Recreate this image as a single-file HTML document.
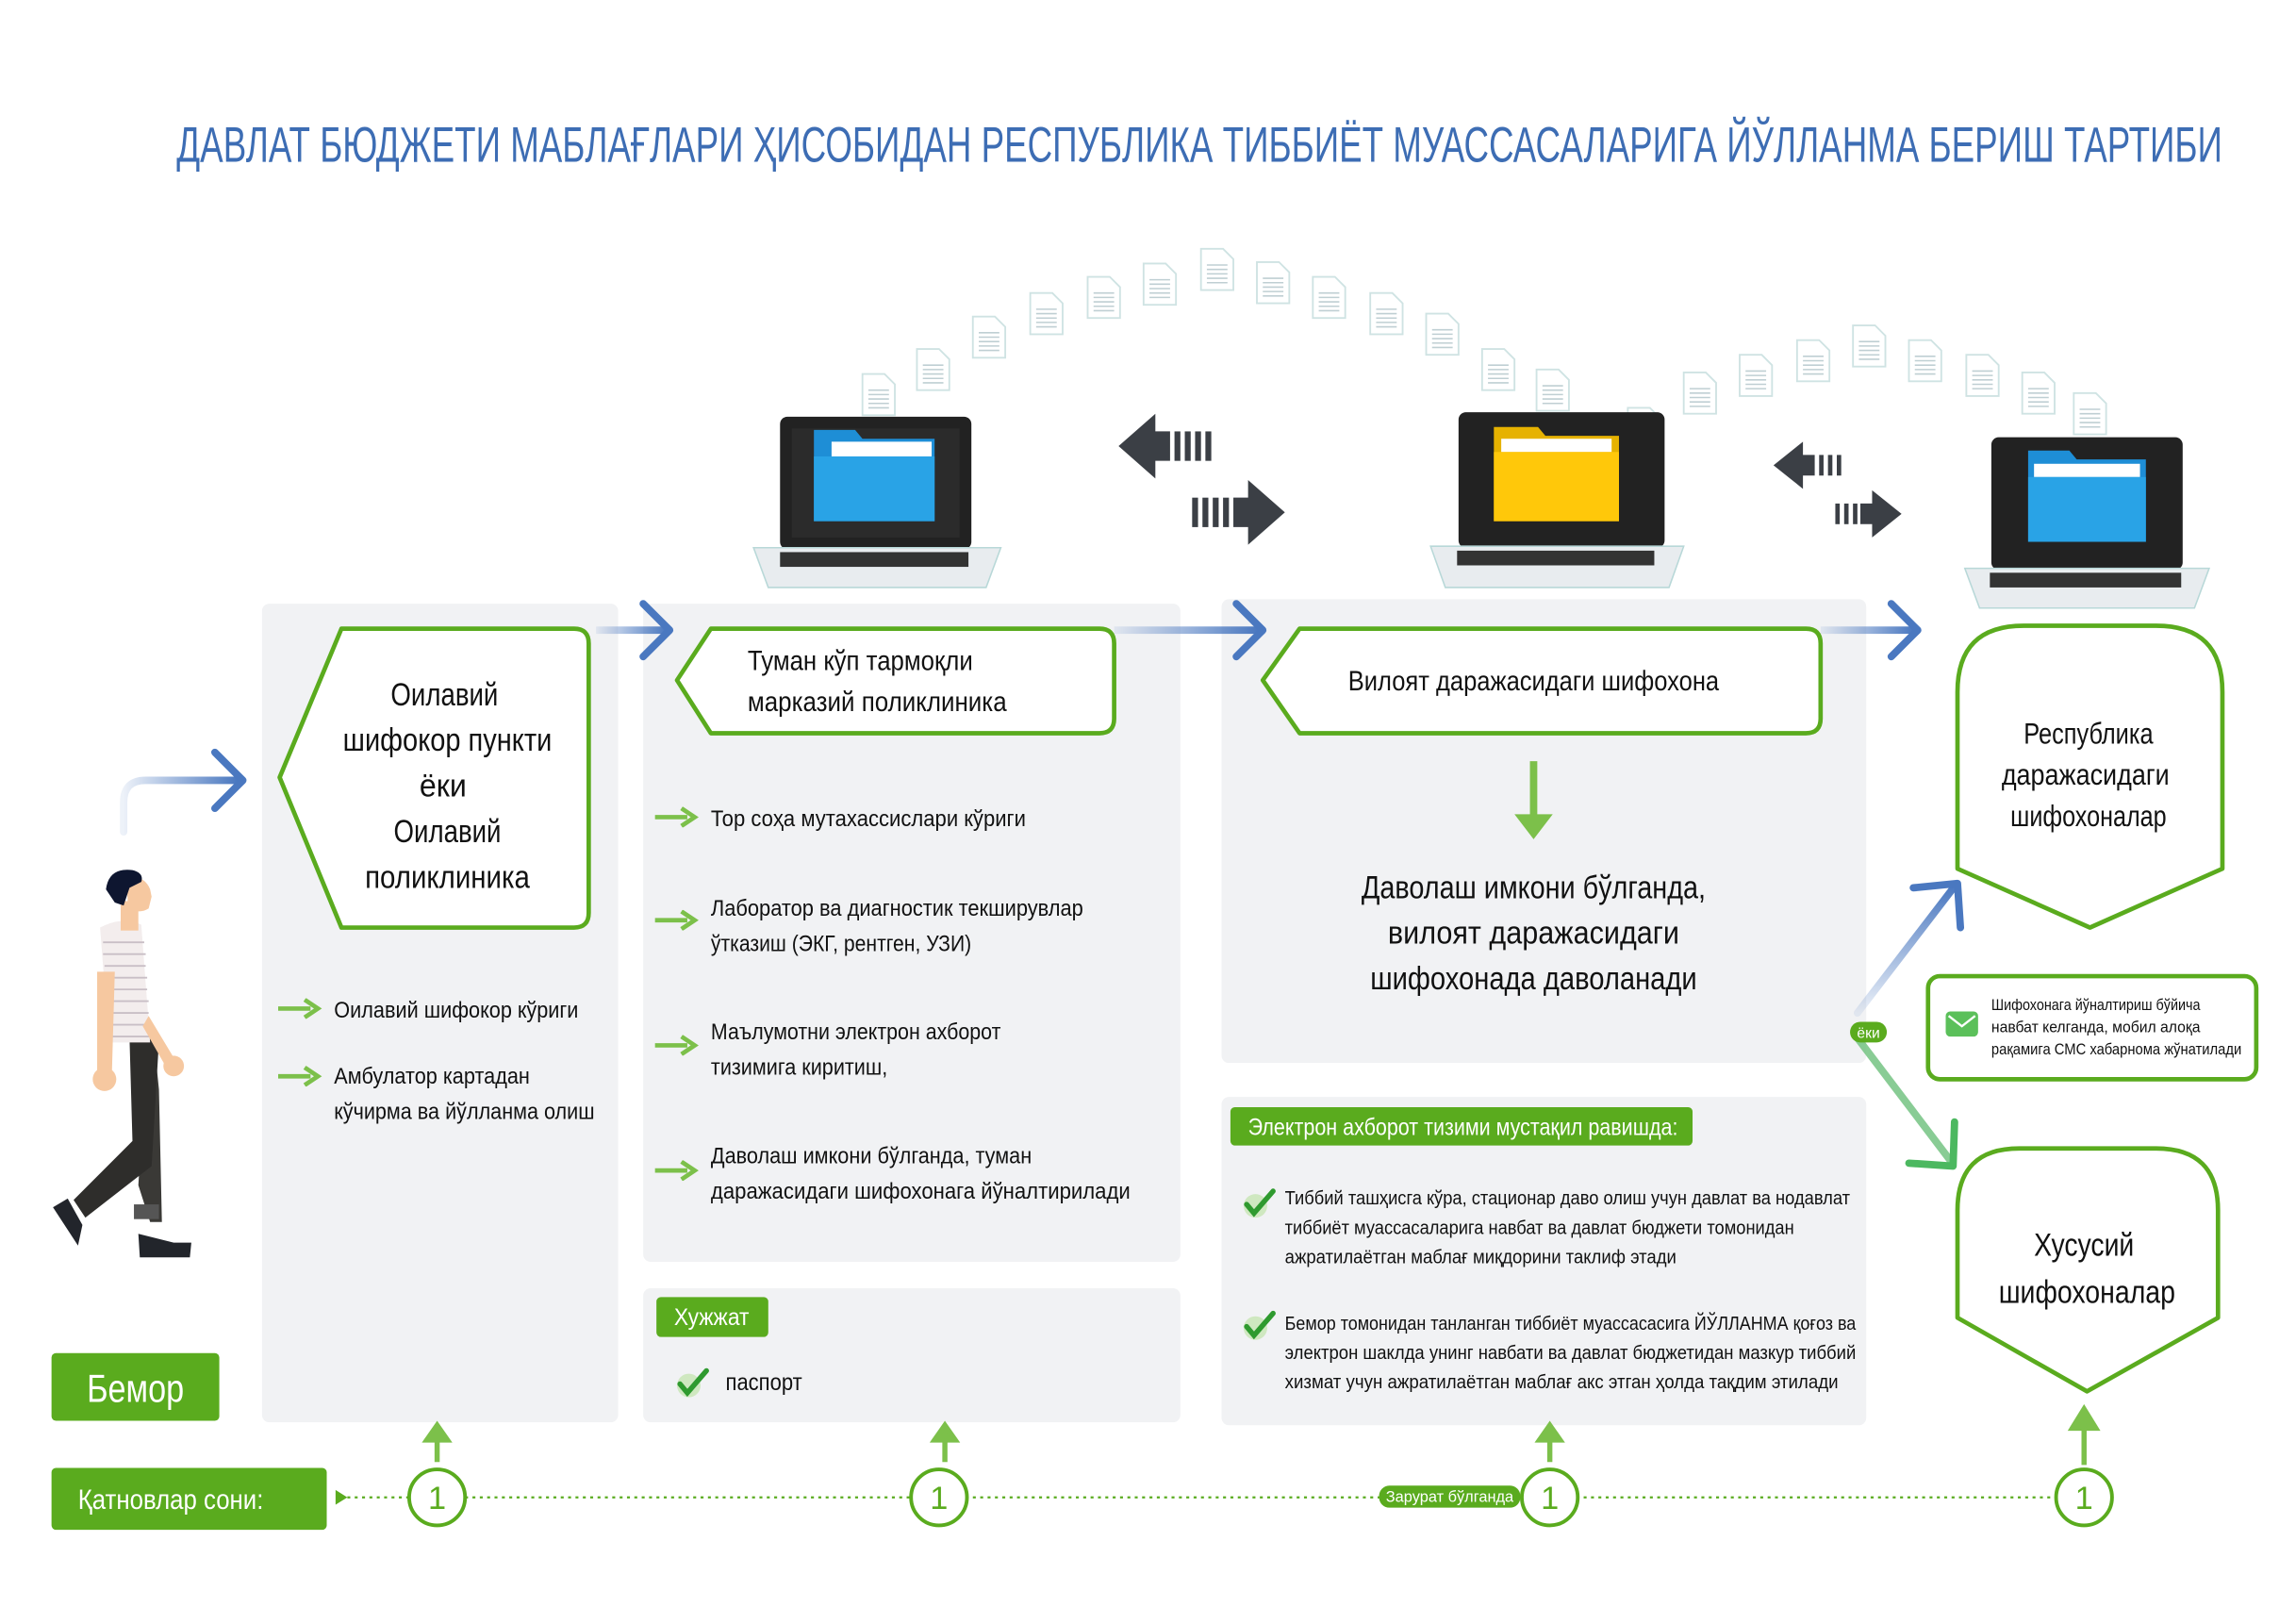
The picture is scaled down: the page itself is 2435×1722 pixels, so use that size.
<!DOCTYPE html>
<html><head><meta charset="utf-8"><style>
html,body{margin:0;padding:0;background:#fff;}
svg{display:block;}
text{font-family:"Liberation Sans Narrow","Liberation Sans",sans-serif;}
</style></head><body>
<svg width="2435" height="1722" viewBox="0 0 1560 1103" preserveAspectRatio="none" xmlns="http://www.w3.org/2000/svg">
<defs>
<symbol id="doc" viewBox="0 0 24 30"><path d="M1 1h15l7 7v21H1z" fill="#fff" stroke="#cfe3e3" stroke-width="1.2"/><g stroke="#bfcfd3" stroke-width="1"><line x1="5" y1="12" x2="19" y2="12"/><line x1="5" y1="15" x2="19" y2="15"/><line x1="5" y1="18" x2="19" y2="18"/><line x1="5" y1="21" x2="19" y2="21"/><line x1="5" y1="24" x2="19" y2="24"/></g></symbol>
<linearGradient id="bl" x1="0" x2="1"><stop offset="0" stop-color="#4a78c0" stop-opacity="0.1"/><stop offset="1" stop-color="#4a78c0"/></linearGradient>
<linearGradient id="bu" x1="0" y1="1" x2="0" y2="0"><stop offset="0" stop-color="#4a78c0" stop-opacity="0.1"/><stop offset="1" stop-color="#4a78c0"/></linearGradient>
<symbol id="chk" viewBox="0 0 24 24"><circle cx="10" cy="13" r="8" fill="#cfe8c0"/><path d="M4 12l5 6L22 3" fill="none" stroke="#2f9a2f" stroke-width="3.5" stroke-linecap="round"/></symbol>
<symbol id="ga" viewBox="0 0 30 14"><path d="M0 7h22" stroke="#7cc04a" stroke-width="3"/><path d="M18 1l9 6-9 6" fill="none" stroke="#7cc04a" stroke-width="3"/></symbol>
</defs>
<rect width="1560" height="1103" fill="#fff"/>
<text x="120" y="110" font-size="34" fill="#3d6db4" textLength="1390" lengthAdjust="spacingAndGlyphs">ДАВЛАТ БЮДЖЕТИ МАБЛАҒЛАРИ ҲИСОБИДАН РЕСПУБЛИКА ТИББИЁТ МУАССАСАЛАРИГА ЙЎЛЛАНМА БЕРИШ ТАРТИБИ</text>

<g fill="#f1f2f4">
<rect x="178" y="410" width="242" height="556" rx="5"/>
<rect x="437" y="410" width="365" height="447" rx="5"/>
<rect x="437" y="875" width="365" height="91" rx="5"/>
<rect x="830" y="407" width="438" height="315" rx="5"/>
<rect x="830" y="745" width="438" height="223" rx="5"/>
</g>

<g>
<use href="#doc" x="585" y="253" width="24" height="30"/>
<use href="#doc" x="622" y="236" width="24" height="30"/>
<use href="#doc" x="660" y="214" width="24" height="30"/>
<use href="#doc" x="699" y="198" width="24" height="30"/>
<use href="#doc" x="738" y="187" width="24" height="30"/>
<use href="#doc" x="776" y="178" width="24" height="30"/>
<use href="#doc" x="815" y="168" width="24" height="30"/>
<use href="#doc" x="853" y="177" width="24" height="30"/>
<use href="#doc" x="891" y="187" width="24" height="30"/>
<use href="#doc" x="930" y="198" width="24" height="30"/>
<use href="#doc" x="968" y="212" width="24" height="30"/>
<use href="#doc" x="1006" y="236" width="24" height="30"/>
<use href="#doc" x="1043" y="250" width="24" height="30"/>
<use href="#doc" x="1105" y="276" width="24" height="30"/>
<use href="#doc" x="1143" y="252" width="24" height="30"/>
<use href="#doc" x="1181" y="240" width="24" height="30"/>
<use href="#doc" x="1220" y="230" width="24" height="30"/>
<use href="#doc" x="1258" y="220" width="24" height="30"/>
<use href="#doc" x="1296" y="230" width="24" height="30"/>
<use href="#doc" x="1335" y="240" width="24" height="30"/>
<use href="#doc" x="1373" y="252" width="24" height="30"/>
<use href="#doc" x="1408" y="266" width="24" height="30"/>
</g>

<g>
<rect x="530" y="283" width="130" height="90" rx="5" fill="#222"/>
<rect x="538" y="291" width="114" height="74" fill="#2b2b2b"/>
<path d="M553 292h28l5 6h49v56h-82z" fill="#1e8ed6"/><rect x="565" y="300" width="68" height="10" fill="#fff"/><rect x="553" y="310" width="82" height="44" fill="#29a3e6"/>
<path d="M512 372h168l-10 27H522z" fill="#e8ecef" stroke="#b8d8d8"/><rect x="530" y="375" width="128" height="10" fill="#333"/>
<rect x="991" y="280" width="140" height="92" rx="5" fill="#222"/>
<path d="M1015 290h30l5 6h50v58h-85z" fill="#e6b200"/><rect x="1020" y="298" width="75" height="9" fill="#fff"/><rect x="1015" y="307" width="85" height="47" fill="#ffc80a"/>
<path d="M972 371h172l-10 28H982z" fill="#e8ecef" stroke="#b8d8d8"/><rect x="990" y="374" width="134" height="10" fill="#333"/>
<rect x="1353" y="297" width="130" height="90" rx="5" fill="#222"/>
<path d="M1378 306h28l5 6h47v56h-80z" fill="#1e8ed6"/><rect x="1382" y="315" width="72" height="9" fill="#fff"/><rect x="1378" y="324" width="80" height="44" fill="#29a3e6"/>
<path d="M1335 386h166l-10 27h-146z" fill="#e8ecef" stroke="#b8d8d8"/><rect x="1352" y="389" width="130" height="10" fill="#333"/>
</g>

<g fill="#3b3f45">
<path d="M760 303l25-22v12h10v20h-10v12z"/><rect x="798" y="293" width="4" height="20"/><rect x="805" y="293" width="4" height="20"/><rect x="812" y="293" width="4" height="20"/><rect x="819" y="293" width="4" height="20"/>
<path d="M873 348l-25-22v12h-10v20h10v12z"/><rect x="831" y="338" width="4" height="20"/><rect x="824" y="338" width="4" height="20"/><rect x="817" y="338" width="4" height="20"/><rect x="810" y="338" width="4" height="20"/>
<path d="M1205 316l20-16v9h8v14h-8v9z"/><rect x="1236" y="309" width="3" height="14"/><rect x="1242" y="309" width="3" height="14"/><rect x="1248" y="309" width="3" height="14"/>
<path d="M1292 349l-20-16v9h-8v14h8v9z"/><rect x="1259" y="342" width="3" height="14"/><rect x="1253" y="342" width="3" height="14"/><rect x="1247" y="342" width="3" height="14"/>
</g>

<g fill="url(#bl)">
<rect x="405" y="425.5" width="48" height="5"/>
<rect x="757" y="425.5" width="98" height="5"/>
<rect x="1237" y="425.5" width="63" height="5"/>
</g>
<g fill="none" stroke-width="5" stroke-linecap="round" stroke-linejoin="round">
<path d="M84 565v-20q0-15 15-15h62" stroke="url(#bl)"/>
<path d="M146 511l19 19-19 19" stroke="#4a78c0"/>
<path d="M437 410l18 18-18 18" stroke="#4a78c0"/>
<path d="M840 410l18 18-18 18" stroke="#4a78c0"/>
<path d="M1285 410l18 18-18 18" stroke="#4a78c0"/>
<path d="M1262 688l66-86" stroke="url(#bu)"/><path d="M1300 603l30-3 2 30" stroke="#4a78c0"/>
<path d="M1262 705l63 83" stroke="#6bbf7a" stroke-opacity="0.8"/><path d="M1297 790l30 2 1-30" stroke="#4cb860"/>
</g>

<g fill="#fff" stroke="#5aab1e" stroke-width="3" stroke-linejoin="round">
<path d="M232 427H390q10 0 10 10V620q0 10-10 10H232L190 528z"/>
<path d="M483 427H747q10 0 10 10V488q0 10-10 10H483L460 462z"/>
<path d="M883 427H1227q10 0 10 10V488q0 10-10 10H883L858 462z"/>
<path d="M1375 425H1465q45 0 45 45V590L1420 630 1330 590V470q0-45 45-45z"/>
<path d="M1372 780H1465q42 0 42 42V895L1418 945 1330 895V822q0-42 42-42z"/>
<rect x="1310" y="663" width="223" height="70" rx="8"/>
</g>

<g font-size="22" fill="#111" text-anchor="middle" lengthAdjust="spacingAndGlyphs">
<text x="302" y="479" textLength="73" lengthAdjust="spacingAndGlyphs">Оилавий</text>
<text x="304" y="510" textLength="142" lengthAdjust="spacingAndGlyphs">шифокор пункти</text>
<text x="301" y="541" textLength="32" lengthAdjust="spacingAndGlyphs">ёки</text>
<text x="304" y="572" textLength="73" lengthAdjust="spacingAndGlyphs">Оилавий</text>
<text x="304" y="603" textLength="112" lengthAdjust="spacingAndGlyphs">поликлиника</text>
<text x="1419" y="505" font-size="20" textLength="88" lengthAdjust="spacingAndGlyphs">Республика</text>
<text x="1417" y="533" font-size="20" textLength="114" lengthAdjust="spacingAndGlyphs">даражасидаги</text>
<text x="1419" y="561" font-size="20" textLength="106" lengthAdjust="spacingAndGlyphs">шифохоналар</text>
<text x="1416" y="853" textLength="68" lengthAdjust="spacingAndGlyphs">Хусусий</text>
<text x="1418" y="885" textLength="120" lengthAdjust="spacingAndGlyphs">шифохоналар</text>
<text x="1042" y="610" textLength="234" lengthAdjust="spacingAndGlyphs">Даволаш имкони бўлганда,</text>
<text x="1042" y="641" textLength="198" lengthAdjust="spacingAndGlyphs">вилоят  даражасидаги</text>
<text x="1042" y="672" textLength="222" lengthAdjust="spacingAndGlyphs">шифохонада даволанади</text>
</g>
<g font-size="19" fill="#111">
<text x="508" y="455" textLength="153" lengthAdjust="spacingAndGlyphs">Туман кўп тармоқли</text>
<text x="508" y="483" textLength="176" lengthAdjust="spacingAndGlyphs">марказий поликлиника</text>
<text x="916" y="469" textLength="252" lengthAdjust="spacingAndGlyphs">Вилоят даражасидаги шифохона</text>
</g>

<path d="M1042 517v42" stroke="#7cc04a" stroke-width="5"/><path d="M1029 553l13 17 13-17z" fill="#7cc04a"/>

<g font-size="15.5" fill="#111">
<use href="#ga" x="189" y="678" width="30" height="14"/><text x="227" y="691" textLength="166" lengthAdjust="spacingAndGlyphs">Оилавий шифокор кўриги</text>
<use href="#ga" x="189" y="724" width="30" height="14"/><text x="227" y="736" textLength="133" lengthAdjust="spacingAndGlyphs">Амбулатор картадан</text><text x="227" y="760" textLength="177" lengthAdjust="spacingAndGlyphs">кўчирма ва йўлланма олиш</text>
<use href="#ga" x="445" y="548" width="30" height="14"/><text x="483" y="561" textLength="214" lengthAdjust="spacingAndGlyphs">Тор соҳа мутахассислари кўриги</text>
<use href="#ga" x="445" y="618" width="30" height="14"/><text x="483" y="622" textLength="253" lengthAdjust="spacingAndGlyphs">Лаборатор ва диагностик текширувлар</text><text x="483" y="646" textLength="177" lengthAdjust="spacingAndGlyphs">ўтказиш (ЭКГ, рентген, УЗИ)</text>
<use href="#ga" x="445" y="703" width="30" height="14"/><text x="483" y="706" textLength="197" lengthAdjust="spacingAndGlyphs">Маълумотни электрон ахборот</text><text x="483" y="730" textLength="120" lengthAdjust="spacingAndGlyphs">тизимига киритиш,</text>
<use href="#ga" x="445" y="788" width="30" height="14"/><text x="483" y="790" textLength="218" lengthAdjust="spacingAndGlyphs">Даволаш имкони бўлганда, туман</text><text x="483" y="814" textLength="285" lengthAdjust="spacingAndGlyphs">даражасидаги шифохонага йўналтирилади</text>
</g>

<rect x="446" y="881" width="76" height="27" rx="3" fill="#5aab1e"/>
<text x="458" y="900" font-size="16" fill="#fff" textLength="51" lengthAdjust="spacingAndGlyphs">Хужжат</text>
<use href="#chk" x="458" y="928" width="24" height="24"/>
<text x="493" y="944" font-size="16" fill="#111" textLength="52" lengthAdjust="spacingAndGlyphs">паспорт</text>

<rect x="836" y="752" width="314" height="26" rx="3" fill="#5aab1e"/>
<text x="848" y="771" font-size="16" fill="#fff" textLength="292" lengthAdjust="spacingAndGlyphs">Электрон ахборот тизими мустақил равишда:</text>
<use href="#chk" x="843" y="806" width="24" height="24"/>
<use href="#chk" x="843" y="889" width="24" height="24"/>
<g font-size="13" fill="#111">
<text x="873" y="818" textLength="384" lengthAdjust="spacingAndGlyphs">Тиббий ташҳисга кўра, стационар даво олиш учун давлат ва нодавлат</text>
<text x="873" y="838" textLength="346" lengthAdjust="spacingAndGlyphs">тиббиёт муассасаларига навбат ва давлат бюджети томонидан</text>
<text x="873" y="858" textLength="266" lengthAdjust="spacingAndGlyphs">ажратилаётган маблағ миқдорини таклиф этади</text>
<text x="873" y="903" textLength="388" lengthAdjust="spacingAndGlyphs">Бемор томонидан танланган тиббиёт муассасасига ЙЎЛЛАНМА қоғоз ва</text>
<text x="873" y="923" textLength="388" lengthAdjust="spacingAndGlyphs">электрон шаклда унинг навбати ва давлат бюджетидан мазкур тиббий</text>
<text x="873" y="943" textLength="376" lengthAdjust="spacingAndGlyphs">хизмат учун ажратилаётган маблағ акс этган ҳолда тақдим этилади</text>
</g>

<rect x="1322" y="687" width="22" height="17" rx="3" fill="#5bc05a"/><path d="M1324 690l9 7 9-7" fill="none" stroke="#fff" stroke-width="1.5"/>
<g font-size="10.5" fill="#111">
<text x="1353" y="686" textLength="142" lengthAdjust="spacingAndGlyphs">Шифохонага йўналтириш бўйича</text>
<text x="1353" y="701" textLength="142" lengthAdjust="spacingAndGlyphs">навбат келганда, мобил алоқа</text>
<text x="1353" y="716" textLength="170" lengthAdjust="spacingAndGlyphs">рақамига СМС хабарнома жўнатилади</text>
</g>
<rect x="1257" y="694" width="25" height="14" rx="7" fill="#5aab1e"/>
<text x="1269.5" y="705" font-size="10" fill="#fff" text-anchor="middle">ёки</text>

<g>
<path d="M90 700l8 40-4 65 8 25h8l-2-90-4-40z" fill="#3a3936"/>
<path d="M88 705l2 70-40 40 8 12 45-35 5-85z" fill="#2e2d2b"/>
<rect x="91" y="818" width="17" height="10" fill="#555"/>
<path d="M94 838l24 6h12l-1 10H95z" fill="#22252b"/>
<path d="M36 820l10-6 10 18-3 14z" fill="#22252b"/>
<path d="M68 630q15-8 28-2l6 80H74z" fill="#f3eded"/>
<g stroke="#c9bfc6" stroke-width="1.2"><line x1="70" y1="640" x2="98" y2="640"/><line x1="70" y1="648" x2="99" y2="648"/><line x1="71" y1="656" x2="99" y2="656"/><line x1="72" y1="664" x2="100" y2="664"/><line x1="72" y1="672" x2="100" y2="672"/><line x1="73" y1="680" x2="101" y2="680"/><line x1="73" y1="688" x2="101" y2="688"/><line x1="74" y1="696" x2="102" y2="696"/><line x1="74" y1="704" x2="102" y2="704"/></g>
<path d="M66 660h12l-2 70h-10z" fill="#f6c8a0"/><circle cx="71" cy="733" r="8" fill="#f6c8a0"/>
<path d="M101 690l18 30-6 5-16-28z" fill="#f6c8a0"/><circle cx="118" cy="724" r="7" fill="#f6c8a0"/>
<rect x="82" y="612" width="12" height="20" fill="#f6c8a0"/>
<path d="M86 596q12-2 16 8l1 5-2 8q-6 4-14 0z" fill="#f6c8a0"/>
<path d="M72 604q2-15 18-13 8 2 6 8l-8 4-4 12-6-2z" fill="#0e1630"/>
</g>

<rect x="35" y="919" width="114" height="46" rx="3" fill="#5aab1e"/>
<text x="92" y="952" font-size="27" fill="#fff" text-anchor="middle" textLength="66" lengthAdjust="spacingAndGlyphs">Бемор</text>
<rect x="35" y="997" width="187" height="42" rx="3" fill="#5aab1e"/>
<text x="53" y="1025" font-size="19" fill="#fff" textLength="126" lengthAdjust="spacingAndGlyphs">Қатновлар сони:</text>
<path d="M228 1012l8 5-8 5z" fill="#5aab1e"/>
<line x1="236" y1="1017" x2="1400" y2="1017" stroke="#5aab1e" stroke-width="1.5" stroke-dasharray="2 3"/>
<rect x="937" y="1009" width="96" height="15" rx="7" fill="#5aab1e"/>
<text x="985" y="1020" font-size="10.5" fill="#fff" text-anchor="middle">Зарурат бўлганда</text>
<g fill="#fff" stroke="#5aab1e" stroke-width="2.5">
<circle cx="297" cy="1017" r="19"/><circle cx="638" cy="1017" r="19"/><circle cx="1053" cy="1017" r="19"/><circle cx="1416" cy="1017" r="19"/>
</g>
<g font-size="22" fill="#5aab1e" text-anchor="middle">
<text x="297" y="1025">1</text><text x="638" y="1025">1</text><text x="1053" y="1025">1</text><text x="1416" y="1025">1</text>
</g>
<g stroke="#7cc04a" stroke-width="3.5" fill="#7cc04a">
<line x1="297" y1="993" x2="297" y2="975"/><path d="M290 978l7-10 7 10z"/>
<line x1="642" y1="993" x2="642" y2="975"/><path d="M635 978l7-10 7 10z"/>
<line x1="1053" y1="993" x2="1053" y2="975"/><path d="M1046 978l7-10 7 10z"/>
<line x1="1416" y1="995" x2="1416" y2="966"/><path d="M1408 970l8-13 8 13z"/>
</g>
</svg>
</body></html>
